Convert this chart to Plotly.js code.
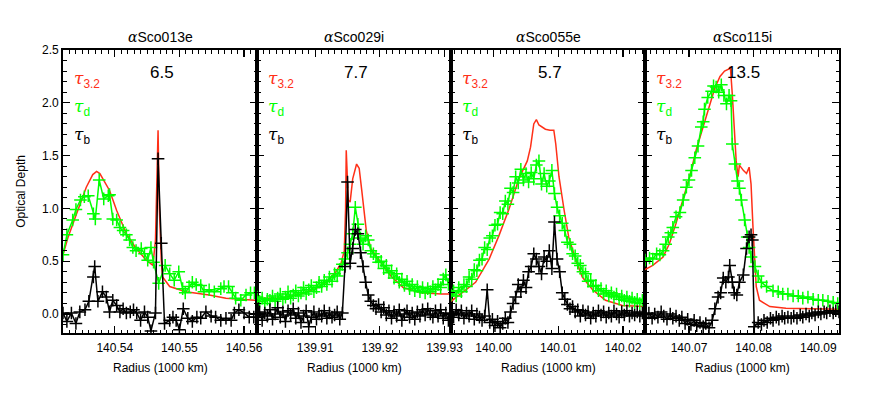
<!DOCTYPE html>
<html>
<head>
<meta charset="utf-8">
<script src="https://cdn.plot.ly/plotly-3.0.1.min.js"></script>
<style>html,body{margin:0;padding:0;background:#fff;}#chart{width:872px;height:394px;}</style>
</head>
<body>
<div id="chart"></div>
<script>
// ---------- Panel titles, ratio labels, axis ranges ----------
const panelNames = ["αSco013e", "αSco029i", "αSco055e", "αSco115i"];
const panelRatios = ["6.5", "7.7", "5.7", "13.5"];
const xRanges = [[140.532, 140.562], [139.901, 139.931], [139.9934, 140.0234], [140.0632, 140.0932]];
const yRange = [-0.18, 2.5];

// ---------- Panel 1 : αSco013e ----------
const p1RedX = [140.5320,140.5328,140.5341,140.5356,140.5366,140.5372,140.5377,140.5382,140.5392,140.5403,140.5418,140.5433,140.5449,140.5459,140.5463,140.5467,140.5469,140.5472,140.5474,140.5485,140.5510,140.5546,140.5572,140.5617];
const p1RedY = [0.56,0.73,0.95,1.20,1.32,1.35,1.33,1.28,1.17,0.98,0.76,0.62,0.51,0.46,0.70,1.74,1.00,0.51,0.35,0.26,0.21,0.18,0.15,0.13];
const p1GreenX = [140.5320,140.5326,140.5335,140.5340,140.5347,140.5353,140.5359,140.5367,140.5370,140.5376,140.5383,140.5390,140.5392,140.5397,140.5403,140.5408,140.5413,140.5418,140.5423,140.5428,140.5433,140.5441,140.5446,140.5451,140.5456,140.5460,140.5468,140.5478,140.5485,140.5492,140.5499,140.5505,140.5509,140.5515,140.5520,140.5526,140.5533,140.5538,140.5546,140.5554,140.5564,140.5569,140.5576,140.5582,140.5587,140.5595,140.5603,140.5610,140.5616];
const p1GreenY = [0.56,0.75,0.89,0.99,1.08,1.11,1.12,0.95,0.90,1.27,1.09,1.12,1.13,0.90,0.89,0.82,0.79,0.75,0.70,0.63,0.60,0.62,0.57,0.51,0.63,0.49,0.29,0.46,0.38,0.32,0.40,0.24,0.20,0.26,0.30,0.28,0.27,0.21,0.23,0.21,0.24,0.26,0.26,0.20,0.15,0.13,0.18,0.20,0.20];
const p1BlackX = [140.5320,140.5326,140.5333,140.5340,140.5346,140.5354,140.5360,140.5367,140.5369,140.5374,140.5381,140.5387,140.5392,140.5397,140.5403,140.5408,140.5413,140.5418,140.5424,140.5429,140.5434,140.5440,140.5446,140.5451,140.5456,140.5463,140.5467,140.5472,140.5477,140.5485,140.5490,140.5495,140.5500,140.5506,140.5513,140.5520,140.5527,140.5533,140.5541,140.5549,140.5556,140.5564,140.5572,140.5580,140.5585,140.5592,140.5600,140.5608,140.5615];
const p1BlackY = [0.01,-0.07,0.01,-0.09,0.02,0.04,0.12,0.35,0.45,0.12,0.21,0.16,0.02,0.13,0.08,0.02,0.05,0.01,0.02,0.04,0.01,-0.06,0.02,-0.03,-0.16,0.01,1.47,0.67,-0.09,-0.06,-0.03,-0.06,-0.15,0.05,-0.04,-0.07,-0.03,-0.04,0.02,-0.02,-0.03,-0.06,-0.04,-0.06,0.01,0.04,0.01,-0.03,-0.03];

// ---------- Panel 2 : αSco029i ----------
const p2RedX = [139.9010,139.9047,139.9078,139.9101,139.9117,139.9132,139.9140,139.9145,139.9147,139.9148,139.9150,139.9151,139.9154,139.9158,139.9164,139.9168,139.9172,139.9179,139.9186,139.9202,139.9217,139.9236,139.9264,139.9295,139.9312];
const p2RedY = [0.15,0.15,0.19,0.24,0.30,0.40,0.48,0.60,1.00,1.55,1.25,1.08,1.06,1.28,1.42,1.38,1.17,0.79,0.62,0.49,0.36,0.25,0.20,0.19,0.19];
const p2X = [139.9010,139.9014,139.9018,139.9022,139.9026,139.9030,139.9034,139.9038,139.9042,139.9046,
  139.9050,139.9054,139.9058,139.9062,139.9066,139.9070,139.9074,139.9078,139.9082,139.9086,
  139.9090,139.9094,139.9098,139.9102,139.9106,139.9110,139.9114,139.9118,139.9122,139.9126,
  139.9130,139.9134,139.9138,139.9142,139.9146,139.9150,139.9154,139.9158,139.9162,139.9166,
  139.9170,139.9174,139.9178,139.9182,139.9186,139.9190,139.9194,139.9198,139.9202,139.9206,
  139.9210,139.9214,139.9218,139.9222,139.9226,139.9230,139.9234,139.9238,139.9242,139.9246,
  139.9250,139.9254,139.9258,139.9262,139.9266,139.9270,139.9274,139.9278,139.9282,139.9286,
  139.9290,139.9294,139.9298,139.9302,139.9306];
const p2GreenY = [0.16,0.12,0.15,0.10,0.14,0.13,0.17,0.12,0.15,0.19,
  0.14,0.16,0.21,0.15,0.18,0.22,0.17,0.20,0.25,0.19,
  0.23,0.27,0.21,0.25,0.30,0.26,0.32,0.28,0.35,0.31,
  0.38,0.36,0.42,0.47,0.52,0.58,0.66,0.76,1.01,0.85,
  0.72,0.66,0.74,0.70,0.60,0.57,0.54,0.49,0.50,0.43,
  0.46,0.39,0.41,0.34,0.38,0.30,0.33,0.27,0.31,0.24,
  0.28,0.22,0.26,0.21,0.25,0.20,0.24,0.21,0.26,0.23,
  0.28,0.25,0.33,0.37,0.28];
const p2BlackY = [-0.03,0.02,-0.06,0.01,-0.02,0.04,-0.05,0.00,0.06,-0.03,
  0.02,-0.07,0.03,-0.01,0.05,-0.04,0.01,-0.08,-0.02,0.03,
  -0.12,-0.03,0.02,-0.05,0.00,-0.02,0.03,-0.04,0.01,-0.03,
  -0.01,0.02,-0.05,0.01,0.45,1.25,0.48,0.62,0.80,0.76,
  0.58,0.45,0.30,0.18,0.12,0.08,0.05,0.09,0.02,0.06,
  -0.01,0.03,-0.04,0.02,-0.02,0.04,-0.06,0.00,0.03,-0.03,
  0.01,-0.05,0.02,-0.02,0.04,-0.01,0.05,0.00,-0.03,0.03,
  -0.02,0.04,-0.04,0.01,-0.06];

// ---------- Panel 3 : αSco055e ----------
const p3RedX = [139.9934,139.9972,139.9993,140.0008,140.0024,140.0039,140.0052,140.0057,140.0062,140.0066,140.0070,140.0075,140.0080,140.0087,140.0093,140.0096,140.0101,140.0109,140.0116,140.0127,140.0137,140.0153,140.0173,140.0199,140.0234];
const p3RedY = [0.12,0.30,0.52,0.74,1.00,1.28,1.45,1.58,1.80,1.84,1.79,1.77,1.75,1.74,1.74,1.61,1.30,0.98,0.73,0.51,0.35,0.23,0.13,0.08,0.07];
const p3X = [139.9934,139.9938,139.9942,139.9946,139.9950,139.9954,139.9958,139.9962,139.9966,139.9970,
  139.9974,139.9978,139.9982,139.9986,139.9990,139.9994,139.9998,140.0002,140.0006,140.0010,
  140.0014,140.0018,140.0022,140.0026,140.0030,140.0034,140.0038,140.0042,140.0046,140.0050,
  140.0054,140.0058,140.0062,140.0066,140.0070,140.0074,140.0078,140.0082,140.0086,140.0090,
  140.0094,140.0098,140.0102,140.0106,140.0110,140.0114,140.0118,140.0122,140.0126,140.0130,
  140.0134,140.0138,140.0142,140.0146,140.0150,140.0154,140.0158,140.0162,140.0166,140.0170,
  140.0174,140.0178,140.0182,140.0186,140.0190,140.0194,140.0198,140.0202,140.0206,140.0210,
  140.0214,140.0218,140.0222,140.0226,140.0230];
const p3GreenY = [0.18,0.22,0.17,0.25,0.21,0.28,0.26,0.35,0.33,0.42,
  0.41,0.51,0.52,0.63,0.61,0.72,0.74,0.84,0.85,0.96,
  0.95,1.07,1.04,1.19,1.15,1.30,1.24,1.37,1.27,1.33,
  1.25,1.34,1.28,1.41,1.45,1.23,1.33,1.21,1.26,1.36,
  1.14,1.01,0.93,0.86,0.79,0.68,0.66,0.57,0.55,0.48,
  0.46,0.40,0.38,0.31,0.32,0.26,0.27,0.22,0.24,0.19,
  0.22,0.17,0.20,0.16,0.19,0.14,0.17,0.13,0.16,0.12,
  0.15,0.11,0.14,0.10,0.13];
const p3BlackY = [0.02,-0.03,0.04,-0.01,0.03,-0.04,0.01,-0.02,0.03,-0.05,
  0.00,-0.03,-0.06,-0.02,0.23,-0.08,-0.05,-0.11,-0.07,-0.13,
  -0.09,-0.04,-0.08,0.02,0.10,0.16,0.28,0.21,0.32,0.25,
  0.40,0.45,0.57,0.52,0.45,0.38,0.54,0.50,0.60,0.43,
  0.87,0.52,0.40,0.20,0.14,0.09,0.05,0.07,0.02,0.04,
  -0.02,0.03,-0.01,0.02,-0.04,0.01,-0.02,0.03,-0.01,0.02,
  -0.03,0.01,-0.02,0.03,0.00,-0.03,0.02,-0.01,0.03,-0.02,
  0.01,-0.01,0.02,-0.02,0.01];

// ---------- Panel 4 : αSco115i ----------
const p4RedX = [140.0632,140.0644,140.0660,140.0670,140.0680,140.0691,140.0701,140.0711,140.0722,140.0732,140.0740,140.0748,140.0755,140.0762,140.0764,140.0767,140.0770,140.0773,140.0776,140.0778,140.0784,140.0789,140.0793,140.0796,140.0799,140.0802,140.0804,140.0809,140.0825,140.0850,140.0887,140.0932];
const p4RedY = [0.42,0.46,0.54,0.67,0.86,1.08,1.30,1.55,1.77,1.99,2.14,2.25,2.30,2.32,2.34,2.08,1.77,1.45,1.30,1.41,1.36,1.33,1.39,1.23,0.82,0.51,0.26,0.13,0.07,0.055,0.05,0.045];
const p4GreenX = [140.0632,140.0639,140.0644,140.0650,140.0655,140.0660,140.0664,140.0668,140.0672,140.0675,140.0680,140.0686,140.0691,140.0696,140.0700,140.0704,140.0709,140.0714,140.0719,140.0722,140.0724,140.0729,140.0735,140.0738,140.0742,140.0746,140.0750,140.0754,140.0758,140.0762,140.0765,140.0767,140.0771,140.0775,140.0778,140.0781,140.0786,140.0790,140.0793,140.0796,140.0802,140.0807,140.0812,140.0820,140.0830,140.0838,140.0845,140.0853,140.0861,140.0869,140.0876,140.0884,140.0892,140.0900,140.0907,140.0915,140.0923,140.0930];
const p4GreenY = [0.51,0.53,0.52,0.57,0.56,0.60,0.66,0.73,0.77,0.82,0.92,0.96,1.08,1.20,1.27,1.36,1.48,1.59,1.77,1.82,1.94,2.05,2.11,2.16,2.15,2.10,2.17,2.07,1.99,2.07,2.02,1.61,1.42,1.26,1.19,1.08,0.89,0.73,0.63,0.54,0.45,0.36,0.30,0.26,0.22,0.21,0.19,0.19,0.17,0.17,0.15,0.16,0.14,0.13,0.13,0.12,0.11,0.10];
const p4BlackX = [140.0632,140.0638,140.0643,140.0647,140.0652,140.0657,140.0661,140.0666,140.0671,140.0675,140.0680,140.0685,140.0689,140.0694,140.0698,140.0703,140.0708,140.0712,140.0717,140.0722,140.0726,140.0731,140.0736,140.0740,140.0745,140.0749,140.0753,140.0757,140.0761,140.0763,140.0767,140.0770,140.0774,140.0778,140.0784,140.0789,140.0793,140.0796,140.0798,140.0801,140.0807,140.0812,140.0816,140.0821,140.0826,140.0830,140.0835,140.0839,140.0844,140.0848,140.0853,140.0858,140.0862,140.0867,140.0872,140.0876,140.0881,140.0886,140.0890,140.0895,140.0900,140.0904,140.0909,140.0913,140.0918,140.0923,140.0927,140.0932];
const p4BlackY = [-0.03,0.01,-0.04,0.00,-0.03,0.02,-0.02,-0.05,0.00,-0.04,-0.02,-0.06,-0.03,-0.09,-0.05,-0.10,-0.06,-0.11,-0.08,-0.12,-0.09,-0.13,-0.06,0.05,0.16,0.20,0.34,0.30,0.35,0.46,0.30,0.20,0.18,0.30,0.37,0.62,0.73,0.75,0.70,-0.12,-0.08,-0.10,-0.06,-0.08,-0.04,-0.06,-0.03,-0.05,-0.02,-0.04,-0.03,-0.04,-0.02,-0.04,-0.01,-0.03,0.00,-0.02,0.01,-0.01,0.02,0.00,0.02,0.01,0.03,0.01,0.03,0.02];

// ---------- Build ----------
const RED = "rgb(255,48,24)";
const GREEN = "rgb(0,255,0)";
const BLACK = "#000";
const panels = [
  {rx: p1RedX, ry: p1RedY, gx: p1GreenX, gy: p1GreenY, bx: p1BlackX, by: p1BlackY},
  {rx: p2RedX, ry: p2RedY, gx: p2X, gy: p2GreenY, bx: p2X, by: p2BlackY},
  {rx: p3RedX, ry: p3RedY, gx: p3X, gy: p3GreenY, bx: p3X, by: p3BlackY},
  {rx: p4RedX, ry: p4RedY, gx: p4GreenX, gy: p4GreenY, bx: p4BlackX, by: p4BlackY}
];
const FONT = "Liberation Sans, Arial, sans-serif";
const SERIF = "DejaVu Serif, Liberation Serif, serif";
const traces = [];
const layout = {
  width: 872, height: 394,
  margin: {l: 63, r: 33, t: 50, b: 61},
  showlegend: false,
  paper_bgcolor: "#fff", plot_bgcolor: "#fff",
  font: {family: FONT, size: 12, color: "#000"},
  annotations: []
};
function tau(sub) {
  return "<span style='font-family:" + SERIF + "'><i>τ</i></span><sub>" + sub + "</sub>";
}
panels.forEach((p, k) => {
  const n = k === 0 ? "" : String(k + 1);
  const xa = "x" + n, ya = "y" + n;
  const mk = (color) => ({symbol: "cross-thin", size: 9, color: color, line: {color: color, width: 1.5}});
  traces.push({x: p.rx, y: p.ry, xaxis: xa, yaxis: ya, mode: "lines", line: {color: RED, width: 1.5}, hoverinfo: "skip"});
  traces.push({x: p.gx, y: p.gy, xaxis: xa, yaxis: ya, mode: "lines+markers", line: {color: GREEN, width: 1.5}, marker: mk(GREEN), hoverinfo: "skip"});
  traces.push({x: p.bx, y: p.by, xaxis: xa, yaxis: ya, mode: "lines+markers", line: {color: BLACK, width: 1.5}, marker: mk(BLACK), hoverinfo: "skip"});
  layout["xaxis" + n] = {
    domain: [k * 0.25, (k + 1) * 0.25], range: xRanges[k], anchor: ya,
    tick0: 0, dtick: 0.01, tickformat: ".2f",
    ticks: "inside", ticklen: 7, tickwidth: 1.2, tickcolor: "#000",
    minor: {tick0: 0, dtick: 0.001, ticks: "inside", ticklen: 3.5, tickwidth: 1, tickcolor: "#000", showgrid: false},
    showline: true, linewidth: 1.8, linecolor: "#000", mirror: "allticks",
    showgrid: false, zeroline: false, ticklabelstandoff: 3,
    tickfont: {family: FONT, size: 12, color: "#000"}
  };
  layout["yaxis" + n] = {
    domain: [0, 1], range: yRange, anchor: xa,
    tick0: 0, dtick: 0.5, tickformat: ".1f",
    ticks: "inside", ticklen: 7, tickwidth: 1.2, tickcolor: "#000",
    minor: {tick0: 0, dtick: 0.1, ticks: "inside", ticklen: 3.5, tickwidth: 1, tickcolor: "#000", showgrid: false},
    showline: true, linewidth: 1.8, linecolor: "#000", mirror: "allticks",
    showgrid: false, zeroline: false, showticklabels: k === 0,
    tickfont: {family: FONT, size: 12, color: "#000"}
  };
  const xd = xa + " domain", yd = ya + " domain";
  layout.annotations.push({xref: xd, yref: "paper", x: 0.5, y: 1.046,
    text: "<span style='font-family:" + SERIF + "'><i>α</i></span>" + panelNames[k].slice(1),
    showarrow: false, xanchor: "center", yanchor: "middle", font: {family: FONT, size: 14}});
  layout.annotations.push({xref: xd, yref: yd, x: 0.51, y: 0.919, text: panelRatios[k], showarrow: false, xanchor: "center", yanchor: "middle", font: {family: FONT, size: 17}});
  layout.annotations.push({xref: xd, yref: yd, x: 0.045, y: 0.895, text: tau("3.2"), showarrow: false, xanchor: "left", yanchor: "middle", font: {family: FONT, size: 17, color: RED}});
  layout.annotations.push({xref: xd, yref: yd, x: 0.045, y: 0.796, text: tau("d"), showarrow: false, xanchor: "left", yanchor: "middle", font: {family: FONT, size: 17, color: GREEN}});
  layout.annotations.push({xref: xd, yref: yd, x: 0.045, y: 0.697, text: tau("b"), showarrow: false, xanchor: "left", yanchor: "middle", font: {family: FONT, size: 17, color: BLACK}});
  layout.annotations.push({xref: xd, yref: "paper", x: 0.5, y: -0.124, text: "Radius (1000 km)", showarrow: false, xanchor: "center", yanchor: "middle", font: {family: FONT, size: 12}});
});
layout.annotations.push({xref: "paper", yref: "paper", x: -0.055, y: 0.5, text: "Optical Depth", textangle: -90, showarrow: false, xanchor: "center", yanchor: "middle", font: {family: FONT, size: 12}});

Plotly.newPlot("chart", traces, layout, {staticPlot: true, displayModeBar: false});
</script>
</body>
</html>
